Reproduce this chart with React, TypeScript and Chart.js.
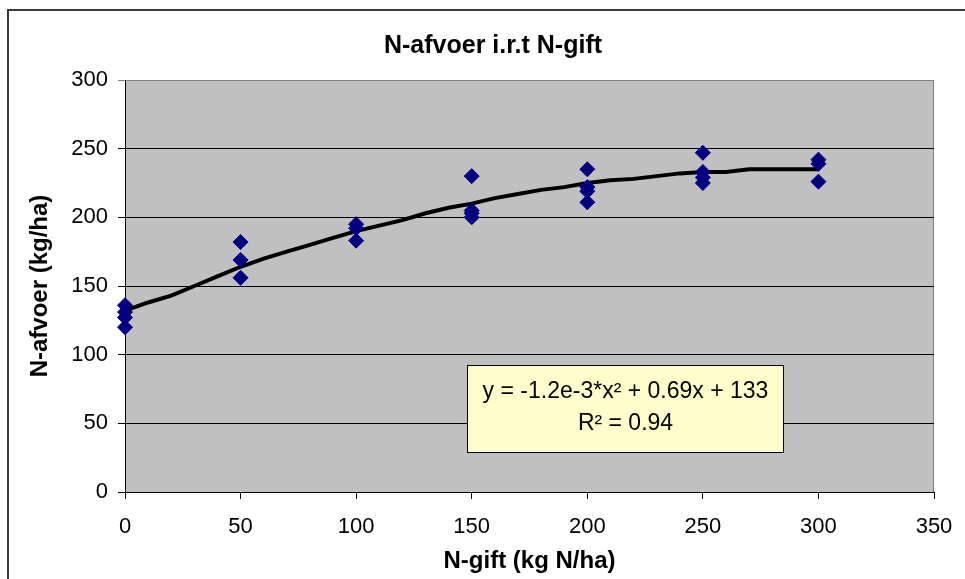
import React, { useEffect, useRef } from 'react';
import { Chart, registerables } from 'chart.js';

Chart.register(...registerables);

// ---- Text ----
const TITLE = 'N-afvoer i.r.t N-gift';
const X_TITLE = 'N-gift (kg N/ha)';
const Y_TITLE = 'N-afvoer (kg/ha)';
const EQ_LINES = ['y = -1.2e-3*x\u00B2 + 0.69x + 133', 'R\u00B2 = 0.94'];

// ---- Axis ranges ----
const X_MIN = 0;
const X_MAX = 350;
const X_STEP = 50;
const Y_MIN = 0;
const Y_MAX = 300;
const Y_STEP = 50;

// ---- Observations ----
const nGift = [
  0, 0, 0, 0,
  50, 50, 50,
  100, 100, 100,
  150, 150, 150, 150,
  200, 200, 200, 200,
  250, 250, 250, 250,
  300, 300, 300,
];
const nAfvoer = [
  136, 131, 127, 120,
  182, 169, 156,
  195, 192, 183,
  230, 205, 203, 200,
  235, 222, 219, 211,
  247, 233, 229, 225,
  242, 239, 226,
];

// ---- Fitted curve ----
const fitX = [0, 10, 20, 30, 40, 50, 60, 70, 80, 90, 100, 110, 120, 130, 140, 150, 160, 170, 180, 190, 200, 210, 220, 230, 240, 250, 260, 270, 280, 290, 300];
const fitY = [132, 138, 143, 150, 157, 164, 170, 175, 180, 185, 190, 194, 198, 203, 207, 210, 214, 217, 220, 222, 225, 227, 228, 230, 232, 233, 233, 235, 235, 235, 235];

// ---- Equation box extent in data units ----
const EQ_BOX = { x0: 148, x1: 284.5, y0: 29, y1: 92.5 };

const FONT = '"Liberation Sans", Arial, Helvetica, sans-serif';

export default function App() {
  const ref = useRef<HTMLCanvasElement | null>(null);

  useEffect(() => {
    const canvas = ref.current;
    if (!canvas) return;

    const decor = {
      id: 'decor',
      beforeDraw(chart: any) {
        const { ctx, chartArea: a } = chart;
        ctx.save();
        ctx.fillStyle = '#ffffff';
        ctx.fillRect(0, 0, chart.width, chart.height);
        // outer frame
        ctx.strokeStyle = '#3a3a3a';
        ctx.lineWidth = 2;
        ctx.beginPath();
        ctx.moveTo(8, chart.height + 2);
        ctx.lineTo(8, 10);
        ctx.lineTo(chart.width + 2, 10);
        ctx.stroke();
        // plot area
        ctx.fillStyle = '#c0c0c0';
        ctx.fillRect(a.left, a.top, a.right - a.left, a.bottom - a.top);
        ctx.strokeStyle = '#808080';
        ctx.lineWidth = 1;
        ctx.beginPath();
        ctx.moveTo(a.left, a.top + 0.5);
        ctx.lineTo(a.right - 0.5, a.top + 0.5);
        ctx.lineTo(a.right - 0.5, a.bottom);
        ctx.stroke();
        // title
        ctx.fillStyle = '#000000';
        ctx.font = `bold 25px ${FONT}`;
        ctx.textAlign = 'center';
        ctx.textBaseline = 'middle';
        ctx.fillText(TITLE, 493, 46);
        ctx.restore();
      },
      afterDatasetsDraw(chart: any) {
        const { ctx } = chart;
        const xs = chart.scales.x;
        const ys = chart.scales.y;
        const l = Math.round(xs.getPixelForValue(EQ_BOX.x0)) + 0.5;
        const r = Math.round(xs.getPixelForValue(EQ_BOX.x1)) + 0.5;
        const t = Math.round(ys.getPixelForValue(EQ_BOX.y1)) + 0.5;
        const b = Math.round(ys.getPixelForValue(EQ_BOX.y0)) + 0.5;
        ctx.save();
        ctx.fillStyle = '#ffffcc';
        ctx.fillRect(l, t, r - l, b - t);
        ctx.strokeStyle = '#000000';
        ctx.lineWidth = 1;
        ctx.strokeRect(l, t, r - l, b - t);
        ctx.fillStyle = '#000000';
        ctx.font = `23px ${FONT}`;
        ctx.textAlign = 'center';
        ctx.textBaseline = 'middle';
        const cx = (l + r) / 2;
        ctx.fillText(EQ_LINES[0], cx, t + 26);
        ctx.fillText(EQ_LINES[1], cx, t + 58);
        ctx.restore();
      },
    };

    const chart = new Chart(canvas, {
      type: 'scatter',
      data: {
        datasets: [
          {
            label: 'N-afvoer',
            data: nGift.map((x, i) => ({ x, y: nAfvoer[i] })),
            pointStyle: 'rectRot',
            pointRadius: 7.5,
            pointBackgroundColor: '#000080',
            pointBorderColor: '#000080',
            pointBorderWidth: 1,
            showLine: false,
            clip: false as any,
          },
          {
            label: 'fit',
            data: fitX.map((x, i) => ({ x, y: fitY[i] })),
            showLine: true,
            borderColor: '#000000',
            borderWidth: 4,
            pointRadius: 0,
            pointHoverRadius: 0,
            tension: 0,
            fill: false,
          },
        ],
      },
      options: {
        animation: false,
        responsive: false,
        devicePixelRatio: 1,
        events: [],
        layout: { padding: { left: 10, right: 31, top: 80, bottom: 0 } },
        plugins: {
          legend: { display: false },
          title: { display: false },
          tooltip: { enabled: false },
        },
        scales: {
          x: {
            type: 'linear',
            min: X_MIN,
            max: X_MAX,
            afterFit: (s: any) => { s.height = 87; s.paddingLeft = 0; s.paddingRight = 0; },
            ticks: {
              stepSize: X_STEP,
              color: '#000000',
              font: { family: FONT, size: 22 },
              padding: 15,
              maxRotation: 0,
            },
            grid: {
              drawOnChartArea: false,
              drawTicks: true,
              tickLength: 7,
              color: '#000000',
            },
            border: { display: true, color: '#000000', width: 1 },
            title: {
              display: true,
              text: X_TITLE,
              color: '#000000',
              font: { family: FONT, size: 24, weight: 'bold' },
              padding: { top: 0, bottom: 3 },
            },
          },
          y: {
            type: 'linear',
            min: Y_MIN,
            max: Y_MAX,
            afterFit: (s: any) => { s.width = 115; s.paddingTop = 0; s.paddingBottom = 0; },
            ticks: {
              stepSize: Y_STEP,
              color: '#000000',
              font: { family: FONT, size: 22 },
              padding: 10,
            },
            grid: {
              drawOnChartArea: true,
              drawTicks: true,
              tickLength: 7,
              color: (c: any) => (c.tick && c.tick.value === Y_MAX ? '#808080' : '#000000'),
            },
            border: { display: true, color: '#000000', width: 1 },
            title: {
              display: true,
              text: Y_TITLE,
              color: '#000000',
              font: { family: FONT, size: 24, weight: 'bold' },
              padding: { top: 16, bottom: 0 },
            },
          },
        },
      },
      plugins: [decor],
    });

    return () => chart.destroy();
  }, []);

  return (
    <div style={{ position: 'fixed', left: 0, top: 0, width: 965, height: 579, background: '#fff' }}>
      <canvas ref={ref} width={965} height={579} style={{ display: 'block', width: 965, height: 579 }} />
    </div>
  );
}
